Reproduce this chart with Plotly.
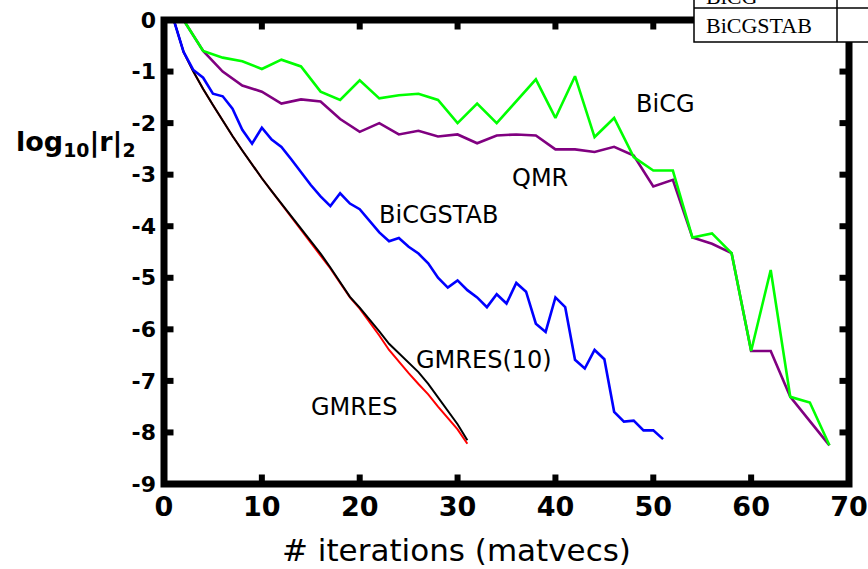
import plotly.graph_objects as go

# ---------------- data ----------------
gmres_x = list(range(1, 32))
gmres = [0, -0.62, -1.00, -1.34, -1.65, -1.96, -2.25, -2.53, -2.81, -3.07,
         -3.32, -3.57, -3.82, -4.06, -4.30, -4.55, -4.82, -5.10, -5.38, -5.60,
         -5.85, -6.12, -6.40, -6.63, -6.85, -7.06, -7.26, -7.50, -7.72, -7.94, -8.22]
gmres10 = [0, -0.62, -1.00, -1.34, -1.65, -1.96, -2.25, -2.53, -2.81, -3.07,
           -3.32, -3.56, -3.80, -4.04, -4.28, -4.53, -4.80, -5.08, -5.37, -5.58,
           -5.80, -6.04, -6.28, -6.47, -6.65, -6.83, -7.06, -7.32, -7.58, -7.84, -8.15]

bicgstab_x = list(range(1, 52))
bicgstab = [0, -0.62, -0.97, -1.12, -1.43, -1.48, -1.72, -2.13, -2.40, -2.09,
            -2.32, -2.46, -2.70, -2.95, -3.20, -3.42, -3.61, -3.36, -3.56, -3.67,
            -3.90, -4.12, -4.29, -4.23, -4.40, -4.53, -4.72, -5.00, -5.19, -5.05,
            -5.24, -5.38, -5.57, -5.32, -5.50, -5.10, -5.27, -5.89, -6.05, -5.38,
            -5.57, -6.59, -6.76, -6.40, -6.58, -7.60, -7.79, -7.77, -7.96, -7.96, -8.13]

bicg_x = list(range(2, 69, 2))
bicg = [0, -0.60, -0.73, -0.80, -0.95, -0.77, -0.90, -1.39, -1.55, -1.17,
        -1.52, -1.46, -1.43, -1.55, -2.00, -1.62, -2.00, -1.57, -1.15, -1.90,
        -1.09, -2.27, -1.90, -2.66, -2.92, -2.92, -4.22, -4.14, -4.52, -6.42,
        -4.85, -7.31, -7.42, -8.25]
qmr = [0, -0.60, -1.00, -1.27, -1.39, -1.62, -1.54, -1.58, -1.92, -2.17,
       -2.00, -2.22, -2.15, -2.26, -2.22, -2.39, -2.24, -2.22, -2.24, -2.51,
       -2.51, -2.56, -2.46, -2.63, -3.23, -3.10, -4.22, -4.34, -4.52, -6.42,
       -6.42, -7.31, -7.78, -8.25]

x_tick_vals = [0, 10, 20, 30, 40, 50, 60, 70]
x_tick_labels = ["0", "10", "20", "30", "40", "50", "60", "70"]
y_tick_vals = [0, -1, -2, -3, -4, -5, -6, -7, -8, -9]
y_tick_labels = ["0", "-1", "-2", "-3", "-4", "-5", "-6", "-7", "-8", "-9"]

curve_labels = ["BiCG", "QMR", "BiCGSTAB", "GMRES(10)", "GMRES"]
curve_label_x = [51.2, 38.4, 28.1, 32.65, 19.4]
curve_label_y = [-1.63, -3.06, -3.78, -6.59, -7.51]

table_rows = ["BiCG", "BiCGSTAB"]

# ---------------- figure ----------------
fig = go.Figure()
fig.add_trace(go.Scatter(x=gmres_x, y=gmres, mode="lines",
                         line=dict(color="#ff0000", width=2)))
fig.add_trace(go.Scatter(x=gmres_x, y=gmres10, mode="lines",
                         line=dict(color="#000000", width=2)))
fig.add_trace(go.Scatter(x=bicgstab_x, y=bicgstab, mode="lines",
                         line=dict(color="#0000ff", width=2.6)))
fig.add_trace(go.Scatter(x=bicg_x, y=qmr, mode="lines",
                         line=dict(color="#800080", width=2.6)))
fig.add_trace(go.Scatter(x=bicg_x, y=bicg, mode="lines",
                         line=dict(color="#00ff00", width=2.6)))

axis_common = dict(ticks="", showline=False, showgrid=False, zeroline=False,
                   automargin=False, ticklabeloverflow="allow")
fig.update_xaxes(range=[0, 70], tickvals=x_tick_vals, ticktext=x_tick_labels,
                 tickfont=dict(family="DejaVu Sans", size=27, color="black", weight="bold"),
                 ticklabelstandoff=4, **axis_common)
fig.update_yaxes(range=[-9, 0], tickvals=y_tick_vals, ticktext=y_tick_labels,
                 tickfont=dict(family="DejaVu Sans", size=22, color="black", weight="bold"),
                 ticklabelstandoff=7, **axis_common)

FW, FH = 868, 569
L, R, T, B = 164, 19, 20, 85
W, H = FW - L - R, FH - T - B

def px(xp):
    return (xp - L) / W

def py(yp):
    return (FH - B - yp) / H

TX = 9.5 / W   # tick length in paper units (horizontal)
TY = 9.5 / H   # tick length in paper units (vertical)

shapes = [
    dict(type="rect", xref="paper", yref="paper", x0=0, x1=1, y0=0, y1=1,
         line=dict(color="black", width=7), layer="above"),
]
tick_line = dict(color="black", width=6)
for v in x_tick_vals[1:-1]:
    shapes.append(dict(type="line", xref="x", yref="paper", x0=v, x1=v, y0=0, y1=TY,
                       line=tick_line, layer="above"))
    shapes.append(dict(type="line", xref="x", yref="paper", x0=v, x1=v, y0=1 - TY, y1=1,
                       line=tick_line, layer="above"))
for v in y_tick_vals[1:-1]:
    shapes.append(dict(type="line", xref="paper", yref="y", x0=0, x1=TX, y0=v, y1=v,
                       line=tick_line, layer="above"))
    shapes.append(dict(type="line", xref="paper", yref="y", x0=1 - TX, x1=1, y0=v, y1=v,
                       line=tick_line, layer="above"))
# overlapping table in the top-right corner
shapes += [
    dict(type="rect", xref="paper", yref="paper", x0=px(694), x1=px(900),
         y0=py(42), y1=py(-60), fillcolor="white",
         line=dict(color="black", width=1.5), layer="above"),
    dict(type="line", xref="paper", yref="paper", x0=px(837), x1=px(837),
         y0=py(42), y1=py(-60), line=dict(color="black", width=1.5), layer="above"),
    dict(type="line", xref="paper", yref="paper", x0=px(694), x1=px(900),
         y0=py(8), y1=py(8), line=dict(color="black", width=1.5), layer="above"),
]

annotations = []
for t, xx, yy in zip(curve_labels, curve_label_x, curve_label_y):
    annotations.append(dict(x=xx, y=yy, xref="x", yref="y", text=t, showarrow=False,
                            font=dict(family="DejaVu Sans", size=24, color="black"),
                            xanchor="center", yanchor="middle"))
annotations.append(dict(x=px(456), y=py(550), xref="paper", yref="paper",
                        text="# iterations (matvecs)", showarrow=False,
                        font=dict(family="DejaVu Sans", size=31, color="black"),
                        xanchor="center", yanchor="middle"))
annotations.append(dict(x=px(76), y=py(143), xref="paper", yref="paper",
                        text="log<sub>10</sub>|r|<sub>2</sub>", showarrow=False,
                        font=dict(family="DejaVu Sans", size=27, color="black", weight="bold"),
                        xanchor="center", yanchor="middle"))
annotations.append(dict(x=px(704), y=py(-4), xref="paper", yref="paper",
                        text=table_rows[0], showarrow=False,
                        font=dict(family="Liberation Serif", size=22, color="black"),
                        xanchor="left", yanchor="middle"))
annotations.append(dict(x=px(704), y=py(25), xref="paper", yref="paper",
                        text=table_rows[1], showarrow=False,
                        font=dict(family="Liberation Serif", size=22, color="black"),
                        xanchor="left", yanchor="middle"))

fig.update_layout(width=FW, height=FH,
                  margin=dict(l=L, r=R, t=T, b=B, autoexpand=False),
                  paper_bgcolor="white", plot_bgcolor="white", showlegend=False,
                  shapes=shapes, annotations=annotations)

fig.write_html("out.html", config={"displayModeBar": False},
               post_script="document.body.style.margin='0px';")
